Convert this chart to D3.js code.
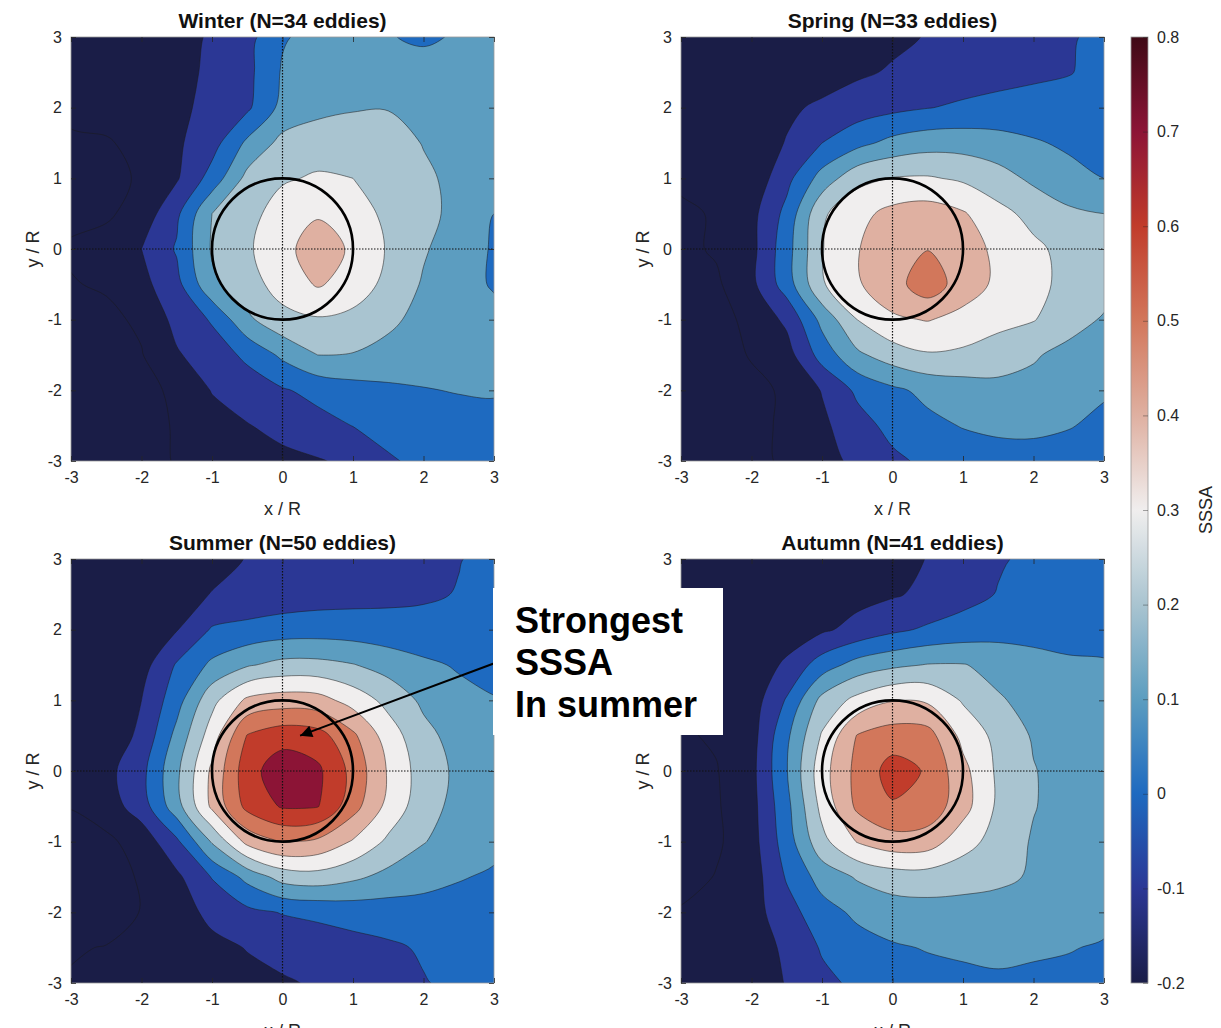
<!DOCTYPE html>
<html lang="en">
<head>
<meta charset="UTF-8">
<title>SSSA seasonal composites</title>
<style>
  body { margin: 0; background: #fff; }
  svg { display: block; font-family: "Liberation Sans", Arial, Helvetica, sans-serif; }
</style>
</head>
<body>
<script src="https://cdn.jsdelivr.net/npm/d3@7"></script>
<script>
var width = 1221, height = 1028;

// grid of the composite (x/R, y/R), rows run from y = 3 down to y = -3
var gridX = [-3, -2.5, -2, -1.5, -1, -0.5, 0, 0.5, 1, 1.5, 2, 2.5, 3];
var gridY = [3, 2.5, 2, 1.5, 1, 0.5, 0, -0.5, -1, -1.5, -2, -2.5, -3];
var levels = [-0.2, -0.1, 0, 0.1, 0.2, 0.3, 0.4, 0.5, 0.6, 0.7];
var axisTicks = [-3, -2, -1, 0, 1, 2, 3];
var cbarTicks = [-0.2, -0.1, 0, 0.1, 0.2, 0.3, 0.4, 0.5, 0.6, 0.7, 0.8];

var seasons = ['Winter', 'Spring', 'Summer', 'Autumn'];
var eddyCounts = [34, 33, 50, 41];

var winter = [
  [-0.15, -0.14, -0.13, -0.115, -0.095, -0.035, 0.091, 0.13, 0.135, 0.105, 0.085, 0.11, 0.125],
  [-0.16, -0.15, -0.135, -0.12, -0.088, -0.028, 0.11, 0.15, 0.165, 0.165, 0.14, 0.13, 0.13],
  [-0.17, -0.16, -0.145, -0.12, -0.075, -0.018, 0.13, 0.17, 0.19, 0.195, 0.17, 0.145, 0.135],
  [-0.22, -0.21, -0.17, -0.115, -0.04, 0.12, 0.23, 0.26, 0.27, 0.25, 0.195, 0.16, 0.14],
  [-0.23, -0.225, -0.19, -0.11, 0.04, 0.23, 0.29, 0.31, 0.30, 0.27, 0.22, 0.17, 0.15],
  [-0.22, -0.215, -0.16, -0.02, 0.2, 0.27, 0.34, 0.39, 0.34, 0.28, 0.23, 0.17, 0.1],
  [-0.19, -0.16, -0.1, 0.01, 0.21, 0.285, 0.37, 0.45, 0.385, 0.29, 0.21, 0.15, 0.09],
  [-0.205, -0.19, -0.13, -0.03, 0.18, 0.26, 0.34, 0.41, 0.36, 0.27, 0.19, 0.14, 0.09],
  [-0.23, -0.22, -0.185, -0.07, 0.01, 0.18, 0.27, 0.29, 0.27, 0.22, 0.17, 0.14, 0.13],
  [-0.25, -0.24, -0.205, -0.11, -0.05, 0.02, 0.12, 0.2, 0.195, 0.17, 0.15, 0.14, 0.13],
  [-0.27, -0.26, -0.23, -0.18, -0.095, -0.05, -0.01, 0.03, 0.06, 0.08, 0.095, 0.105, 0.11],
  [-0.28, -0.27, -0.24, -0.19, -0.14, -0.105, -0.07, -0.035, 0.002, 0.03, 0.05, 0.06, 0.065],
  [-0.29, -0.28, -0.25, -0.19, -0.16, -0.14, -0.125, -0.107, -0.08, -0.01, 0.02, 0.04, 0.05]
];

var spring = [
  [-0.15, -0.16, -0.165, -0.165, -0.16, -0.14, -0.12, -0.095, -0.075, -0.055, -0.035, -0.008, 0.02],
  [-0.16, -0.17, -0.17, -0.16, -0.14, -0.115, -0.09, -0.07, -0.05, -0.035, -0.02, -0.005, 0.03],
  [-0.17, -0.175, -0.16, -0.115, -0.085, -0.05, -0.025, -0.003, 0.015, 0.03, 0.04, 0.045, 0.05],
  [-0.18, -0.18, -0.15, -0.095, 0.0, 0.07, 0.13, 0.16, 0.16, 0.14, 0.11, 0.085, 0.07],
  [-0.19, -0.185, -0.17, -0.03, 0.14, 0.27, 0.305, 0.31, 0.285, 0.24, 0.18, 0.13, 0.1],
  [-0.21, -0.195, -0.13, 0.03, 0.285, 0.37, 0.43, 0.45, 0.41, 0.33, 0.27, 0.22, 0.2],
  [-0.22, -0.19, -0.13, 0.06, 0.295, 0.395, 0.46, 0.497, 0.45, 0.375, 0.32, 0.27, 0.25],
  [-0.24, -0.215, -0.125, 0.05, 0.29, 0.39, 0.46, 0.56, 0.45, 0.38, 0.32, 0.28, 0.24],
  [-0.26, -0.24, -0.17, -0.08, 0.13, 0.3, 0.385, 0.405, 0.37, 0.33, 0.305, 0.24, 0.19],
  [-0.27, -0.26, -0.19, -0.14, 0.04, 0.18, 0.25, 0.29, 0.28, 0.25, 0.21, 0.17, 0.14],
  [-0.28, -0.27, -0.235, -0.18, -0.095, 0.02, 0.08, 0.125, 0.15, 0.17, 0.17, 0.14, 0.11],
  [-0.29, -0.28, -0.24, -0.175, -0.12, -0.04, 0.03, 0.075, 0.105, 0.12, 0.12, 0.105, 0.08],
  [-0.3, -0.29, -0.25, -0.17, -0.13, -0.08, -0.02, 0.02, 0.045, 0.06, 0.065, 0.06, 0.05]
];

var summer = [
  [-0.16, -0.165, -0.16, -0.145, -0.125, -0.097, -0.08, -0.065, -0.05, -0.035, -0.02, -0.003, 0.02],
  [-0.17, -0.175, -0.16, -0.13, -0.097, -0.075, -0.06, -0.045, -0.035, -0.025, -0.012, 0.004, 0.02],
  [-0.18, -0.18, -0.16, -0.105, 0.01, 0.03, 0.05, 0.055, 0.05, 0.04, 0.03, 0.03, 0.035],
  [-0.19, -0.185, -0.14, 0.01, 0.12, 0.19, 0.23, 0.23, 0.205, 0.16, 0.12, 0.09, 0.07],
  [-0.19, -0.17, -0.1, 0.06, 0.27, 0.42, 0.45, 0.44, 0.36, 0.27, 0.18, 0.13, 0.105],
  [-0.19, -0.16, -0.08, 0.13, 0.35, 0.605, 0.66, 0.64, 0.52, 0.35, 0.23, 0.16, 0.12],
  [-0.17, -0.13, -0.03, 0.18, 0.42, 0.66, 0.76, 0.72, 0.57, 0.39, 0.25, 0.18, 0.14],
  [-0.195, -0.15, -0.05, 0.16, 0.42, 0.63, 0.71, 0.705, 0.54, 0.37, 0.24, 0.17, 0.14],
  [-0.25, -0.22, -0.16, -0.02, 0.21, 0.43, 0.505, 0.48, 0.39, 0.28, 0.205, 0.15, 0.12],
  [-0.27, -0.24, -0.19, -0.12, 0.005, 0.13, 0.24, 0.26, 0.22, 0.17, 0.135, 0.105, 0.09],
  [-0.28, -0.26, -0.195, -0.135, -0.08, -0.025, 0.005, 0.02, 0.04, 0.05, 0.06, 0.07, 0.075],
  [-0.21, -0.195, -0.18, -0.15, -0.12, -0.097, -0.07, -0.05, -0.035, -0.015, 0.01, 0.03, 0.04],
  [-0.19, -0.185, -0.17, -0.155, -0.135, -0.12, -0.11, -0.09, -0.065, -0.04, -0.005, 0.02, 0.03]
];

var autumn = [
  [-0.17, -0.17, -0.165, -0.16, -0.15, -0.135, -0.12, -0.098, -0.06, -0.01, 0.02, 0.035, 0.045],
  [-0.18, -0.18, -0.175, -0.165, -0.15, -0.13, -0.11, -0.08, -0.035, 0.005, 0.035, 0.05, 0.06],
  [-0.19, -0.19, -0.18, -0.16, -0.115, -0.07, -0.02, 0.015, 0.04, 0.06, 0.07, 0.075, 0.08],
  [-0.195, -0.195, -0.17, -0.08, 0.05, 0.14, 0.18, 0.205, 0.205, 0.17, 0.13, 0.11, 0.105],
  [-0.19, -0.19, -0.15, 0.01, 0.23, 0.33, 0.395, 0.385, 0.29, 0.21, 0.17, 0.15, 0.14],
  [-0.21, -0.19, -0.14, 0.08, 0.31, 0.505, 0.55, 0.54, 0.37, 0.27, 0.19, 0.16, 0.15],
  [-0.21, -0.205, -0.13, 0.095, 0.36, 0.53, 0.64, 0.59, 0.43, 0.28, 0.205, 0.16, 0.15],
  [-0.22, -0.21, -0.135, 0.07, 0.33, 0.52, 0.59, 0.565, 0.44, 0.28, 0.205, 0.16, 0.15],
  [-0.23, -0.215, -0.14, 0.05, 0.27, 0.405, 0.46, 0.45, 0.34, 0.26, 0.19, 0.16, 0.15],
  [-0.24, -0.195, -0.15, 0.01, 0.14, 0.21, 0.25, 0.255, 0.24, 0.22, 0.19, 0.165, 0.155],
  [-0.19, -0.18, -0.14, -0.04, 0.06, 0.12, 0.15, 0.16, 0.16, 0.16, 0.155, 0.145, 0.13],
  [-0.19, -0.18, -0.14, -0.085, 0.01, 0.06, 0.09, 0.105, 0.11, 0.115, 0.11, 0.105, 0.09],
  [-0.19, -0.18, -0.15, -0.095, -0.025, 0.02, 0.05, 0.07, 0.085, 0.09, 0.085, 0.075, 0.065]
];

// diverging colour map of the colour bar
var cmapValues = [-0.2, -0.1, 0, 0.1, 0.2, 0.3, 0.4, 0.5, 0.6, 0.7, 0.8];
var cmapColors = ['#1a1d47', '#2b3795', '#1e6ac0', '#5c9dc0', '#a9c4d0', '#f0eeee',
                  '#dfb0a1', '#d2775b', '#c13c2b', '#8c1436', '#3f0a16'];

var noteLines = ['Strongest', 'SSSA', 'In summer'];
var notePoint = [0.25, 0.5];   // where the arrow points in the Summer panel

var fields = [winter, spring, summer, autumn];
var plotW = 423, plotH = 424;
var panelPos = [[71, 37], [681, 37], [71, 559], [681, 559]];
var noteBox = {x: 493, y: 588, w: 230, h: 147};

var cmap = d3.scaleLinear().domain(cmapValues).range(cmapColors)
             .interpolate(d3.interpolateRgb).clamp(true);

var svg = d3.select('body').append('svg')
            .attr('width', width)
            .attr('height', height);
var defs = svg.append('defs');

var nx = gridX.length, ny = gridY.length, step = gridX[1] - gridX[0];
var contourGen = d3.contours().size([nx, ny]).thresholds(levels);

function fmtAxis(d) { return String(d); }
function fmtBar(d) { return String(Math.round(d * 10) / 10); }

function styleAxis(sel) {
  sel.select('.domain').remove();
  sel.selectAll('.tick line').attr('stroke', '#262626').attr('stroke-width', 0.8);
  sel.selectAll('.tick text').attr('fill', '#262626').style('font-size', '16px');
}

var summerScales;

fields.forEach(function(field, k) {
  var left = panelPos[k][0], top = panelPos[k][1];
  var xs = d3.scaleLinear().domain([-3, 3]).range([left, left + plotW]);
  var ys = d3.scaleLinear().domain([-3, 3]).range([top + plotH, top]);
  if (k === 2) summerScales = [xs, ys];

  defs.append('clipPath').attr('id', 'clip' + k)
      .append('rect')
      .attr('x', left).attr('y', top)
      .attr('width', plotW).attr('height', plotH);

  var g = svg.append('g');
  var plot = g.append('g').attr('clip-path', 'url(#clip' + k + ')');

  // everything below the lowest level
  plot.append('rect')
      .attr('x', left).attr('y', top)
      .attr('width', plotW).attr('height', plotH)
      .attr('fill', cmap(levels[0]));

  // contour rings come back in grid units; sample i sits at i + 0.5
  var ring = d3.line()
      .x(function(p) { return xs(gridX[0] + (p[0] - 0.5) * step); })
      .y(function(p) { return ys(gridY[0] - (p[1] - 0.5) * step); })
      .curve(d3.curveCatmullRomClosed.alpha(0.5));

  function bandPath(d) {
    var s = '';
    d.coordinates.forEach(function(poly) {
      poly.forEach(function(r) { s += ring(r.slice(0, -1)); });
    });
    return s;
  }

  plot.selectAll('path.band')
      .data(contourGen(d3.merge(field)))
      .enter().append('path')
      .attr('class', 'band')
      .attr('d', bandPath)
      .attr('fill', function(d) { return cmap(d.value); })
      .attr('stroke', '#1a1a1a')
      .attr('stroke-width', 0.7)
      .attr('stroke-opacity', 0.75)
      .attr('stroke-linejoin', 'round');

  // dotted axes through the eddy centre
  plot.append('line')
      .attr('x1', xs(0)).attr('x2', xs(0))
      .attr('y1', ys(3)).attr('y2', ys(-3))
      .attr('stroke', '#111').attr('stroke-width', 1.2)
      .attr('stroke-dasharray', '1.5,1.5');
  plot.append('line')
      .attr('x1', xs(-3)).attr('x2', xs(3))
      .attr('y1', ys(0)).attr('y2', ys(0))
      .attr('stroke', '#111').attr('stroke-width', 1.2)
      .attr('stroke-dasharray', '1.5,1.5');

  // eddy radius
  plot.append('ellipse')
      .attr('cx', xs(0)).attr('cy', ys(0))
      .attr('rx', xs(1) - xs(0)).attr('ry', ys(0) - ys(1))
      .attr('fill', 'none')
      .attr('stroke', '#000')
      .attr('stroke-width', 2.6);

  // frame and ticks
  g.append('rect')
      .attr('x', left).attr('y', top)
      .attr('width', plotW).attr('height', plotH)
      .attr('fill', 'none')
      .attr('stroke', '#9a9a9a')
      .attr('stroke-width', 0.8);

  g.append('g')
      .attr('transform', 'translate(0,' + (top + plotH) + ')')
      .call(d3.axisBottom(xs).tickValues(axisTicks).tickSize(-5).tickSizeOuter(0)
              .tickPadding(11).tickFormat(fmtAxis))
      .call(styleAxis);
  var yAxisG = g.append('g')
      .attr('transform', 'translate(' + left + ',0)')
      .call(d3.axisLeft(ys).tickValues(axisTicks).tickSize(-5).tickSizeOuter(0)
              .tickPadding(9).tickFormat(fmtAxis))
      .call(styleAxis);
  // labels hidden behind the annotation box are not drawn
  yAxisG.selectAll('.tick text').filter(function(d) {
    var ty = ys(d), tx = left - 12;
    return tx > noteBox.x && tx < noteBox.x + noteBox.w && ty > noteBox.y && ty < noteBox.y + noteBox.h;
  }).remove();

  g.append('g')
      .attr('transform', 'translate(0,' + top + ')')
      .call(d3.axisTop(xs).tickValues(axisTicks).tickSize(-5).tickSizeOuter(0).tickFormat(''))
      .call(styleAxis);
  g.append('g')
      .attr('transform', 'translate(' + (left + plotW) + ',0)')
      .call(d3.axisRight(ys).tickValues(axisTicks).tickSize(-5).tickSizeOuter(0).tickFormat(''))
      .call(styleAxis);

  g.append('text')
      .attr('x', left + plotW / 2).attr('y', top - 9)
      .attr('text-anchor', 'middle')
      .style('font-size', '21px').style('font-weight', 'bold')
      .attr('fill', '#111')
      .text(seasons[k] + ' (N=' + eddyCounts[k] + ' eddies)');

  g.append('text')
      .attr('x', left + plotW / 2).attr('y', top + plotH + 54)
      .attr('text-anchor', 'middle')
      .style('font-size', '18px')
      .attr('fill', '#262626')
      .text('x / R');

  g.append('text')
      .attr('transform', 'translate(' + (left - 32) + ',' + (top + plotH / 2) + ') rotate(-90)')
      .attr('text-anchor', 'middle')
      .style('font-size', '18px')
      .attr('fill', '#262626')
      .text('y / R');
});

// colour bar
var cbLeft = 1131, cbW = 17;
var cb = d3.scaleLinear().domain([cbarTicks[0], cbarTicks[cbarTicks.length - 1]]).range([983, 37]);

var grad = defs.append('linearGradient')
    .attr('id', 'cbgrad')
    .attr('x1', 0).attr('y1', 1).attr('x2', 0).attr('y2', 0);
d3.range(0, 1.0001, 0.02).forEach(function(t) {
  var v = cbarTicks[0] + t * (cbarTicks[cbarTicks.length - 1] - cbarTicks[0]);
  grad.append('stop').attr('offset', t).attr('stop-color', cmap(v));
});

svg.append('rect')
    .attr('x', cbLeft).attr('y', cb.range()[1])
    .attr('width', cbW).attr('height', cb.range()[0] - cb.range()[1])
    .attr('fill', 'url(#cbgrad)')
    .attr('stroke', '#9a9a9a')
    .attr('stroke-width', 0.8);

svg.append('g')
    .attr('transform', 'translate(' + (cbLeft + cbW) + ',0)')
    .call(d3.axisRight(cb).tickValues(cbarTicks).tickSize(-5).tickSizeOuter(0)
            .tickPadding(9).tickFormat(fmtBar))
    .call(styleAxis)
    .call(function(sel) { sel.selectAll('.tick line').attr('stroke-opacity', 0.5); });

svg.append('text')
    .attr('transform', 'translate(1212,' + ((cb.range()[0] + cb.range()[1]) / 2) + ') rotate(-90)')
    .attr('text-anchor', 'middle')
    .style('font-size', '18px')
    .attr('fill', '#262626')
    .text('SSSA');

// annotation
defs.append('marker')
    .attr('id', 'arrowhead')
    .attr('viewBox', '0 0 10 10')
    .attr('refX', 10).attr('refY', 5)
    .attr('markerWidth', 18).attr('markerHeight', 12)
    .attr('markerUnits', 'userSpaceOnUse')
    .attr('orient', 'auto')
    .append('path')
    .attr('d', 'M0,0 L10,5 L0,10 Z')
    .attr('fill', '#000');

svg.append('line')
    .attr('x1', noteBox.x + 2).attr('y1', 663)
    .attr('x2', summerScales[0](notePoint[0]))
    .attr('y2', summerScales[1](notePoint[1]))
    .attr('stroke', '#000')
    .attr('stroke-width', 2)
    .attr('marker-end', 'url(#arrowhead)');

svg.append('rect')
    .attr('x', noteBox.x).attr('y', noteBox.y)
    .attr('width', noteBox.w).attr('height', noteBox.h)
    .attr('fill', '#fff');

svg.append('g').selectAll('text')
    .data(noteLines)
    .enter().append('text')
    .attr('x', noteBox.x + 22)
    .attr('y', function(d, i) { return noteBox.y + 45 + i * 42; })
    .style('font-size', '36px').style('font-weight', 'bold')
    .attr('fill', '#000')
    .text(function(d) { return d; });
</script>
</body>
</html>
